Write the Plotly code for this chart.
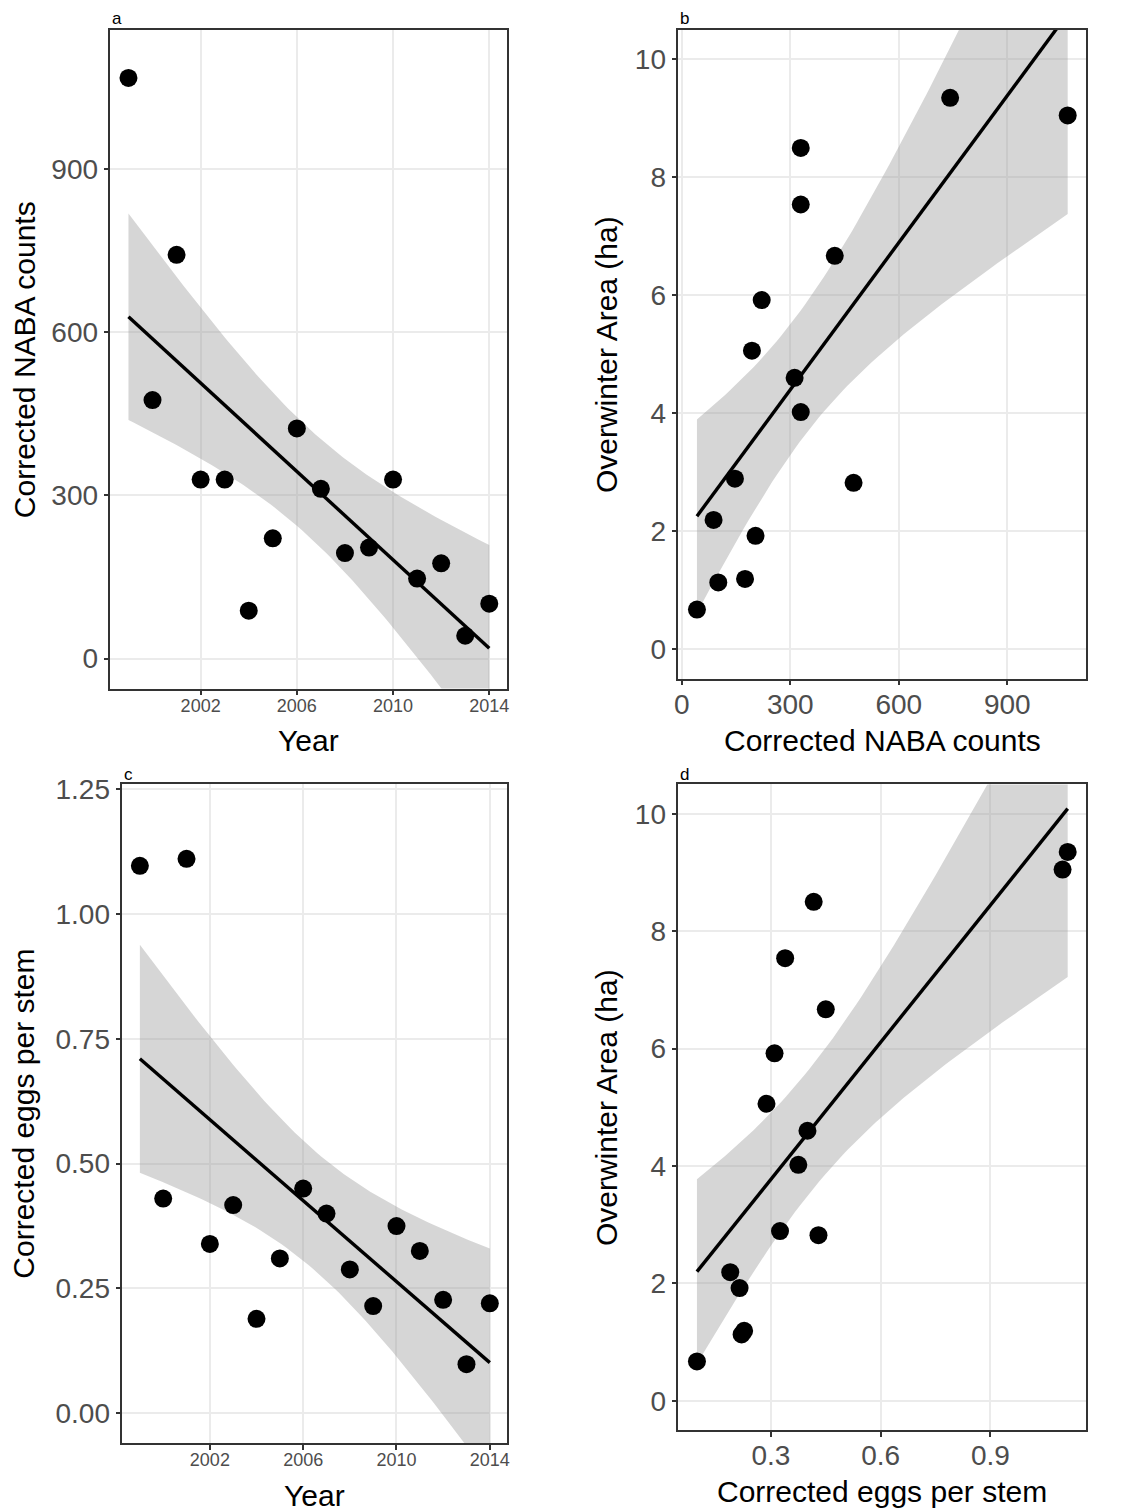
import numpy as np
import plotly.graph_objects as go

# ---------------- data ----------------
years = [1999, 2000, 2001, 2002, 2003, 2004, 2005, 2006,
         2007, 2008, 2009, 2010, 2011, 2012, 2013, 2014]
naba_counts = [1067, 475, 742, 329, 329, 88, 221, 423,
               312, 194, 204, 329, 147, 175, 42, 101]
eggs_per_stem = [1.097, 0.430, 1.111, 0.339, 0.417, 0.189, 0.310, 0.450,
                 0.400, 0.288, 0.2145, 0.375, 0.325, 0.227, 0.098, 0.220]
overwinter_area = [9.05, 2.82, 9.35, 7.54, 8.50, 2.19, 5.92, 6.67,
                   4.60, 5.06, 1.92, 4.02, 2.89, 1.19, 0.67, 1.13]

year_ticks = [2002, 2006, 2010, 2014]
naba_ticks = [0, 300, 600, 900]
area_ticks = [0, 2, 4, 6, 8, 10]
eggs_ticks = [0.00, 0.25, 0.50, 0.75, 1.00, 1.25]
eggs_x_ticks = [0.3, 0.6, 0.9]

# visible y limits (coord limits, 5% expanded)
naba_ylim = [0, 1100]
area_ylim = [0, 10]
eggs_ylim = [0, 1.2]

T_CRIT_DF14 = 2.144787  # qt(0.975, 14)

W, H = 1131, 1511
Y_OFF, Y_SPAN = 9.0, 1502.0  # effective vertical paper mapping


def expand(lo, hi, f=0.05):
    r = hi - lo
    return [lo - f * r, hi + f * r]


def lm_band(x, y, n_pts=80):
    x = np.asarray(x, float)
    y = np.asarray(y, float)
    n = len(x)
    b1, b0 = np.polyfit(x, y, 1)
    resid = y - (b0 + b1 * x)
    s = np.sqrt(np.sum(resid ** 2) / (n - 2))
    xm = x.mean()
    sxx = np.sum((x - xm) ** 2)
    xs = np.linspace(x.min(), x.max(), n_pts)
    fit = b0 + b1 * xs
    se = s * np.sqrt(1.0 / n + (xs - xm) ** 2 / sxx)
    return xs, fit, fit - T_CRIT_DF14 * se, fit + T_CRIT_DF14 * se


def fx(px):
    return px / W


def fy(px):
    return 1 - (px - Y_OFF) / Y_SPAN


fig = go.Figure()

panels = [
    (years, naba_counts, "x", "y"),
    (naba_counts, overwinter_area, "x2", "y2"),
    (years, eggs_per_stem, "x3", "y3"),
    (eggs_per_stem, overwinter_area, "x4", "y4"),
]

for xd, yd, xa, ya in panels:
    xs, fit, lo, hi = lm_band(xd, yd)
    fig.add_trace(go.Scatter(
        x=np.concatenate([xs, xs[::-1]]),
        y=np.concatenate([hi, lo[::-1]]),
        fill="toself", fillcolor="rgba(153,153,153,0.4)",
        line=dict(width=0), mode="lines", hoverinfo="skip",
        xaxis=xa, yaxis=ya))
    fig.add_trace(go.Scatter(
        x=xs, y=fit, mode="lines", line=dict(color="black", width=3.4),
        xaxis=xa, yaxis=ya))
    fig.add_trace(go.Scatter(
        x=xd, y=yd, mode="markers",
        marker=dict(color="black", size=18, line=dict(width=0)),
        xaxis=xa, yaxis=ya))

# pixel boxes of the four panels: (left, right, top, bottom)
boxes = {
    "a": (107, 506, 29, 688),
    "b": (678, 1088, 29, 678),
    "c": (119, 506, 784, 1443),
    "d": (678, 1088, 784, 1430),
}


def xdom(box):
    return [fx(box[0]), fx(box[1])]


def ydom(box):
    return [fy(box[3]), fy(box[2])]


common = dict(
    showline=True, linecolor="#333333", linewidth=1.6, mirror=True,
    ticks="outside", ticklen=5, tickwidth=1.6, tickcolor="#333333",
    showgrid=True, gridcolor="#EBEBEB", gridwidth=1.7,
    zeroline=False, tickfont=dict(color="#4D4D4D", size=28),
)
xcommon = dict(common, ticklabelstandoff=-5)

lay = dict(
    width=W, height=H, margin=dict(l=0, r=0, t=0, b=0),
    plot_bgcolor="white", paper_bgcolor="white", showlegend=False,
    font=dict(family="Liberation Sans, Arial, sans-serif", color="black"),
)

year_rng = expand(min(years), max(years))
year_font = dict(color="#4D4D4D", size=18)

lay["xaxis"] = dict(xcommon, domain=xdom(boxes["a"]), anchor="y",
                    range=year_rng, tickvals=year_ticks, tickfont=year_font)
lay["yaxis"] = dict(common, domain=ydom(boxes["a"]), anchor="x",
                    range=expand(*naba_ylim), tickvals=naba_ticks)
lay["xaxis2"] = dict(xcommon, domain=xdom(boxes["b"]), anchor="y2",
                     range=expand(min(naba_counts), max(naba_counts)),
                     tickvals=naba_ticks)
lay["yaxis2"] = dict(common, domain=ydom(boxes["b"]), anchor="x2",
                     range=expand(*area_ylim), tickvals=area_ticks)
lay["xaxis3"] = dict(xcommon, domain=xdom(boxes["c"]), anchor="y3",
                     range=year_rng, tickvals=year_ticks, tickfont=year_font)
lay["yaxis3"] = dict(common, domain=ydom(boxes["c"]), anchor="x3",
                     range=expand(*eggs_ylim), tickvals=eggs_ticks,
                     ticktext=["%.2f" % v for v in eggs_ticks])
lay["xaxis4"] = dict(xcommon, domain=xdom(boxes["d"]), anchor="y4",
                     range=expand(min(eggs_per_stem), max(eggs_per_stem)),
                     tickvals=eggs_x_ticks,
                     ticktext=["%.1f" % v for v in eggs_x_ticks])
lay["yaxis4"] = dict(common, domain=ydom(boxes["d"]), anchor="x4",
                     range=expand(*area_ylim), tickvals=area_ticks)

fig.update_layout(**lay)

ann = []
# panel letters (centre of glyph row, px)
letters = [("a", 107, 18), ("b", 678, 18), ("c", 119, 774), ("d", 678, 774)]
for key, lx, ly in letters:
    ann.append(dict(text=key, x=fx(lx), y=fy(ly), xref="paper", yref="paper",
                    xanchor="left", yanchor="middle", showarrow=False,
                    font=dict(size=17, color="black")))

# axis titles (centre positions in px)
xtitles = [("a", "Year", 740), ("b", "Corrected NABA counts", 740),
           ("c", "Year", 1495), ("d", "Corrected eggs per stem", 1491)]
for key, txt, ypx in xtitles:
    l, r, t, b = boxes[key]
    ann.append(dict(text=txt, x=fx((l + r) / 2), y=fy(ypx),
                    xref="paper", yref="paper", xanchor="center",
                    yanchor="middle", showarrow=False,
                    font=dict(size=30, color="black")))
ytitles = [("a", "Corrected NABA counts", 20), ("b", "Overwinter Area (ha)", 605),
           ("c", "Corrected eggs per stem", 20), ("d", "Overwinter Area (ha)", 605)]
for key, txt, xpx in ytitles:
    l, r, t, b = boxes[key]
    ann.append(dict(text=txt, x=fx(xpx), y=fy((t + b) / 2),
                    xref="paper", yref="paper", xanchor="center",
                    yanchor="middle", textangle=-90, showarrow=False,
                    font=dict(size=30, color="black")))
fig.update_layout(annotations=ann)

fig.write_html("out.html")
